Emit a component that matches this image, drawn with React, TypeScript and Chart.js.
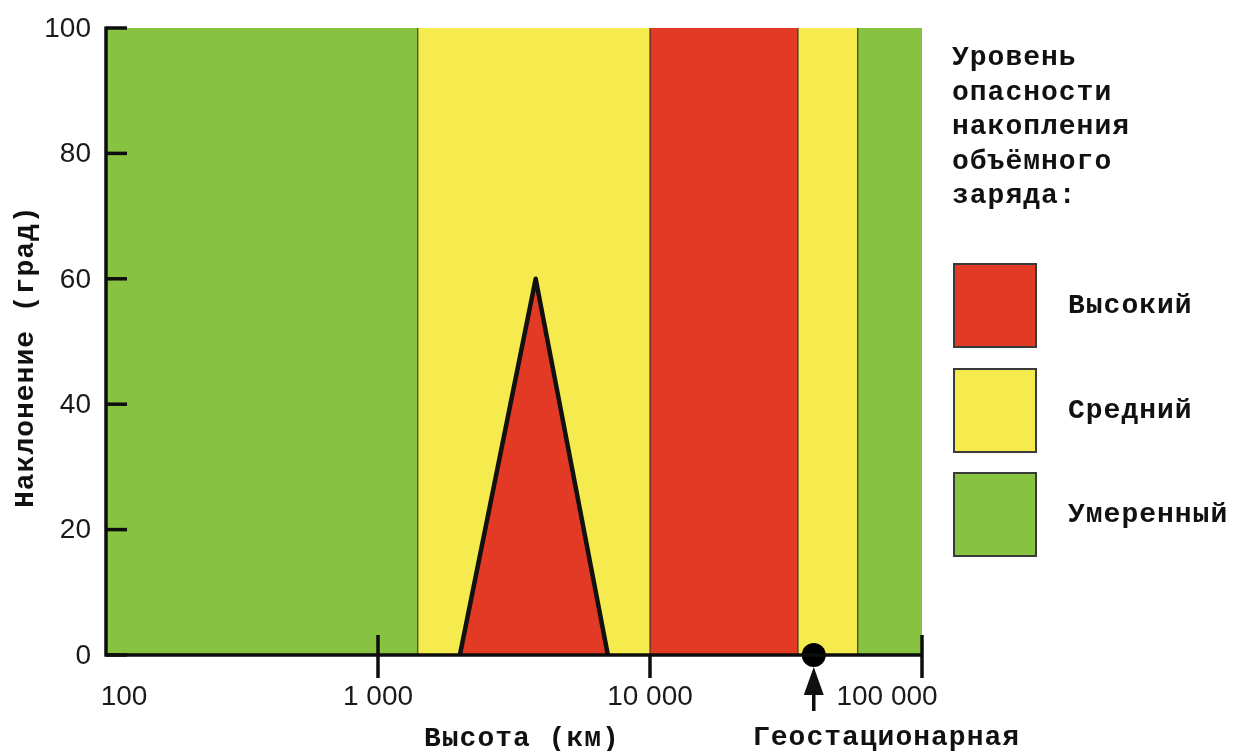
import React, { useEffect, useRef } from "react";
import { Chart, registerables } from "chart.js";
Chart.register(...registerables);

// ---- data ----
const bandEdges = [100, 1400, 10000, 35000, 58000, 100000];
const bandLevels = ["moderate", "medium", "high", "medium", "moderate"];
const triangleX = [2000, 3800, 7000];
const triangleY = [0, 60, 0];
const geoX = 40000;
const xTickValues = [100, 1000, 10000, 100000];
const xTickLabels = ["100", "1 000", "10 000", "100 000"];
const yTickValues = [0, 20, 40, 60, 80, 100];
const legendLevels = ["high", "medium", "moderate"];
const legendLabels = ["Высокий", "Средний", "Умеренный"];
const legendTitle = ["Уровень", "опасности", "накопления", "объёмного", "заряда:"];
const xTitle = "Высота (км)";
const geoLabel = "Геостационарная";
const yTitle = "Наклонение (град)";

const levelColors: Record<string, string> = {
  high: "#e33a25",
  medium: "#f5eb4f",
  moderate: "#87c240",
};

const MONO = '"Liberation Mono", monospace';
const SANS = '"Liberation Sans", Arial, sans-serif';

export default function App() {
  const ref = useRef<HTMLCanvasElement | null>(null);
  useEffect(() => {
    document.body.style.margin = "0";
    const canvas = ref.current!;
    const datasets: any[] = [];
    bandLevels.forEach((lvl, i) => {
      const a = bandEdges[i], b = bandEdges[i + 1];
      datasets.push({
        data: [{ x: a, y: 0 }, { x: a, y: 100 }, { x: b, y: 100 }, { x: b, y: 0 }],
        backgroundColor: levelColors[lvl],
        borderWidth: 0,
        borderColor: "rgba(0,0,0,0)",
        pointRadius: 0,
        fill: "shape",
        tension: 0,
        order: 10,
      });
    });
    bandEdges.slice(1, -1).forEach((e) => {
      datasets.push({
        data: [{ x: e, y: 0 }, { x: e, y: 100 }],
        borderColor: "rgba(40,40,40,0.8)",
        borderWidth: 1.3,
        pointRadius: 0,
        fill: false,
        order: 8,
      });
    });
    datasets.push({
      data: triangleX.map((x, i) => ({ x, y: triangleY[i] })),
      backgroundColor: levelColors.high,
      borderColor: "#111",
      borderWidth: 4.5,
      borderJoinStyle: "round",
      pointRadius: 0,
      fill: "shape",
      order: 5,
    });
    datasets.push({
      data: [{ x: geoX, y: 0 }],
      showLine: false,
      pointRadius: 12,
      pointBackgroundColor: "#000",
      pointBorderColor: "#000",
      borderWidth: 0,
      clip: false,
      order: 0,
    });

    const overlay = {
      id: "overlay",
      afterDraw(chart: any) {
        const ctx = chart.ctx as CanvasRenderingContext2D;
        const xs = chart.scales.x, ys = chart.scales.y;
        const x0 = xs.getPixelForValue(100), x1 = xs.getPixelForValue(100000);
        const y0 = ys.getPixelForValue(0), y1 = ys.getPixelForValue(100);
        ctx.save();
        ctx.strokeStyle = "#0d0d0d";
        ctx.lineWidth = 3.5;
        ctx.lineCap = "butt";
        // axes
        ctx.beginPath();
        ctx.moveTo(x0, y1 - 1.5);
        ctx.lineTo(x0, y0);
        ctx.lineTo(x1, y0);
        ctx.stroke();
        // y ticks (inner)
        yTickValues.forEach((v) => {
          const y = ys.getPixelForValue(v);
          ctx.beginPath();
          ctx.moveTo(x0, y);
          ctx.lineTo(x0 + 21, y);
          ctx.stroke();
        });
        // x ticks
        xTickValues.forEach((v, i) => {
          if (i === 0) return;
          const x = xs.getPixelForValue(v);
          const above = v === 10000 ? 0 : 20;
          ctx.beginPath();
          ctx.moveTo(x, y0 - above);
          ctx.lineTo(x, y0 + 23);
          ctx.stroke();
        });
        // tick labels
        ctx.fillStyle = "#1a1a1a";
        ctx.font = `28px ${SANS}`;
        ctx.textAlign = "right";
        ctx.textBaseline = "middle";
        yTickValues.forEach((v) => {
          ctx.fillText(String(v), 91, ys.getPixelForValue(v) + 1);
        });
        ctx.textAlign = "center";
        const xOffsets = [18, 0, 0, -35];
        xTickValues.forEach((v, i) => {
          ctx.fillText(xTickLabels[i], xs.getPixelForValue(v) + xOffsets[i], 697);
        });
        // arrow under geo dot
        const gx = xs.getPixelForValue(geoX);
        ctx.fillStyle = "#111";
        ctx.beginPath();
        ctx.moveTo(gx, 667);
        ctx.lineTo(gx - 10, 695);
        ctx.lineTo(gx + 10, 695);
        ctx.closePath();
        ctx.fill();
        ctx.beginPath();
        ctx.moveTo(gx, 690);
        ctx.lineTo(gx, 711);
        ctx.stroke();

        // mono texts
        ctx.fillStyle = "#111";
        ctx.font = `bold 28px ${MONO}`;
        (ctx as any).letterSpacing = "1px";
        ctx.textAlign = "left";
        ctx.textBaseline = "alphabetic";
        ctx.fillText(xTitle, 424, 746);
        ctx.fillText(geoLabel, 753, 745);
        legendTitle.forEach((t, i) => {
          ctx.fillText(t, 952, 65 + 34.6 * i);
        });
        // legend boxes
        const boxTops = [264, 369, 473];
        legendLevels.forEach((lvl, i) => {
          ctx.fillStyle = levelColors[lvl];
          ctx.fillRect(954, boxTops[i], 82, 83);
          ctx.strokeStyle = "#3a3a3a";
          ctx.lineWidth = 2;
          ctx.strokeRect(954, boxTops[i], 82, 83);
          ctx.fillStyle = "#111";
          ctx.fillText(legendLabels[i], 1068, boxTops[i] + 49);
        });
        // y title
        ctx.save();
        ctx.translate(33, 508);
        ctx.rotate(-Math.PI / 2);
        ctx.fillText(yTitle, 0, 0);
        ctx.restore();
        ctx.restore();
      },
    };

    const chart = new Chart(canvas, {
      type: "line",
      data: { datasets },
      options: {
        animation: false,
        responsive: false,
        events: [],
        layout: { padding: { left: 106, top: 28, right: 311, bottom: 96 } },
        scales: {
          x: { type: "logarithmic", min: 100, max: 100000, display: false },
          y: { type: "linear", min: 0, max: 100, display: false },
        },
        plugins: { legend: { display: false }, tooltip: { enabled: false } },
      },
      plugins: [overlay],
    });
    return () => chart.destroy();
  }, []);
  return (
    <div style={{ position: "fixed", left: 0, top: 0, width: 1233, height: 751, background: "#fff" }}>
      <canvas ref={ref} width={1233} height={751} style={{ display: "block" }} />
    </div>
  );
}
